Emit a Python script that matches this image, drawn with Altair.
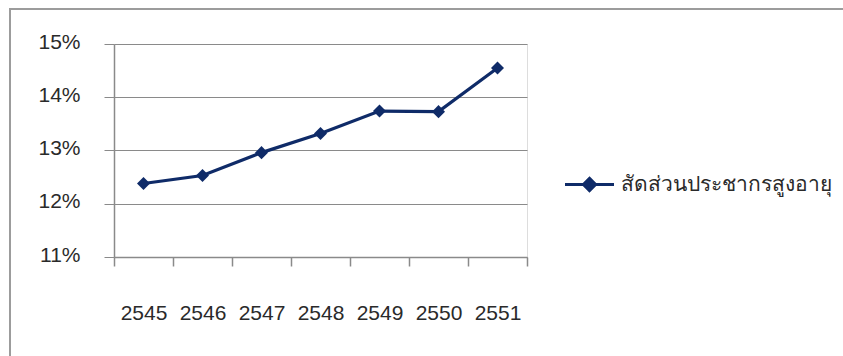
import altair as alt
import pandas as pd

years = ["2545", "2546", "2547", "2548", "2549", "2550", "2551"]
shares = [0.1238, 0.1253, 0.1296, 0.1332, 0.1374, 0.1373, 0.1455]
series_name = "สัดส่วนประชากรสูงอายุ"
y_ticks = [0.11, 0.12, 0.13, 0.14, 0.15]

NAVY = "#0f2b68"
GRAY = "#8a8a8a"
FONT = "Liberation Sans"
TXT = "#2a2a2a"

df = pd.DataFrame({"year": years, "share": shares, "series": [series_name] * len(years)})

x = alt.X(
    "year:O", sort=years, title=None,
    scale=alt.Scale(type="band", paddingInner=0, paddingOuter=0),
    axis=alt.Axis(tickBand="extent", labelAngle=0, tickSize=9, labelPadding=36,
                  labelFont=FONT, labelFontSize=21, labelColor=TXT,
                  domainColor=GRAY, tickColor=GRAY, domainWidth=1.5, tickWidth=1.5, grid=False),
)
y = alt.Y(
    "share:Q", title=None,
    scale=alt.Scale(domain=[0.11, 0.15], nice=False, zero=False),
    axis=alt.Axis(values=y_ticks, format=".0%", tickSize=10, labelPadding=24,
                  labelFont=FONT, labelFontSize=21, labelColor=TXT, labelOffset=-2,
                  gridColor=GRAY, domainColor=GRAY, tickColor=GRAY, domainWidth=1.5),
)
color = alt.Color(
    "series:N", scale=alt.Scale(range=[NAVY]), title=None,
    legend=alt.Legend(orient="none", legendX=464, legendY=129, padding=0,
                      symbolType="M-2.5,0H2.5M0,-0.62L0.62,0L0,0.62L-0.62,0Z",
                      symbolSize=384, symbolStrokeWidth=3, symbolStrokeColor=NAVY,
                      symbolFillColor=NAVY, labelOffset=20, labelLimit=0,
                      labelFont=FONT, labelFontSize=21, labelColor=TXT),
)

line = alt.Chart(df).mark_line(strokeWidth=3.2).encode(x=x, y=y, color=color)
pts = alt.Chart(df).mark_point(shape="diamond", filled=True, size=170, opacity=1).encode(
    x=x, y=y, color=alt.Color("series:N", scale=alt.Scale(range=[NAVY]), legend=None)
)

border = alt.Chart(pd.DataFrame({"a": [0]})).mark_rect(
    fill="transparent", stroke="#9c9c9c", strokeWidth=2
).encode(x=alt.value(-104), x2=alt.value(800), y=alt.value(-35), y2=alt.value(400))

chart = alt.layer(border, line, pts).properties(
    width=413, height=213,
    autosize=alt.AutoSizeParams(type="none"),
    padding={"left": 114, "top": 44, "right": 316, "bottom": 99},
).configure_view(stroke="transparent").configure(background="white")

chart.save("out.html", embed_options={"renderer": "svg", "actions": False})
